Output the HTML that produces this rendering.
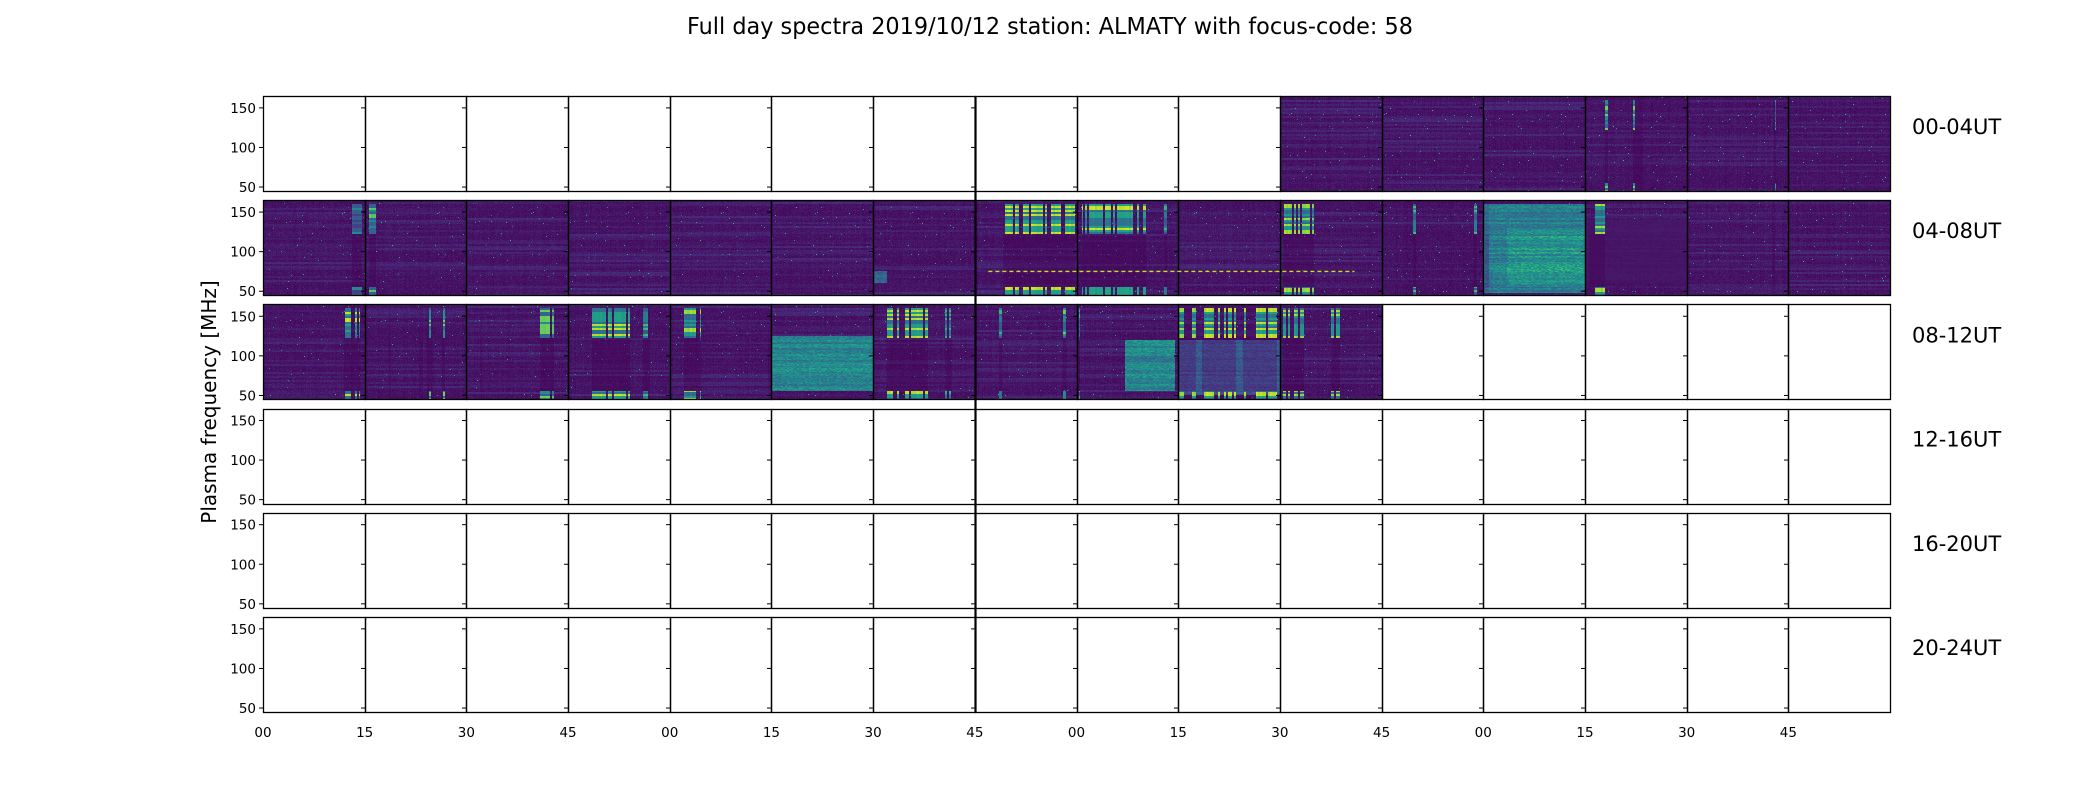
<!DOCTYPE html>
<html><head><meta charset="utf-8">
<style>
html,body{margin:0;padding:0;background:#fff;}
#wrap{position:relative;width:2100px;height:800px;overflow:hidden;font-family:"DejaVu Sans","Liberation Sans",sans-serif;}
canvas{position:absolute;image-rendering:pixelated;}
svg{position:absolute;left:0;top:0;}
</style></head>
<body>
<div id="wrap">
<svg id="svg" width="2100" height="800">
<text x="1050" y="34" text-anchor="middle" font-size="23" textLength="726" lengthAdjust="spacingAndGlyphs" fill="#000">Full day spectra 2019/10/12 station: ALMATY with focus-code: 58</text>
<text transform="translate(216,402) rotate(-90)" text-anchor="middle" font-size="20" fill="#000">Plasma frequency [MHz]</text>
</svg>
</div>
<script>
// ---- data ----
const rowLabels = ["00-04UT","04-08UT","08-12UT","12-16UT","16-20UT","20-24UT"];
const xTickLabels = ["00","15","30","45","00","15","30","45","00","15","30","45","00","15","30","45"];
const yTicks = [50,100,150];
// filled panels: [row, firstCol, lastCol]
const filledRanges = [[0,10,15],[1,0,15],[2,0,10]];
// bursts: [row, col, startMin, endMin, intensity]
const bursts = [
 [1,0,13.0,14.5,0.5],[1,1,0.5,1.5,0.8],[1,7,4.1,14.6,0.95],[1,8,0.7,10.2,0.95],[1,8,12.8,13.3,0.7],
 [1,10,0.3,4.9,0.9],[1,11,4.5,5.0,0.7],[1,11,13.5,14.0,0.7],[1,12,0.2,0.8,0.6],[1,13,0.5,2.8,0.9],[1,14,12.5,13.0,0.7],
 [2,0,11.8,14.2,0.95],[2,1,3.5,3.8,0.7],[2,1,8.0,8.5,0.8],[2,1,9.2,10.0,0.8],[2,1,11.3,11.8,0.8],
 [2,2,2.0,2.3,0.7],[2,2,10.8,12.8,0.8],[2,3,3.4,9.0,0.95],[2,3,11.0,12.0,0.7],[2,4,2.0,4.5,0.9],[2,4,14.5,15,0.7],
 [2,6,2.0,8.0,0.95],[2,6,10.5,11.5,0.7],[2,7,3.5,3.9,0.7],[2,7,12.8,13.3,0.8],[2,8,0.0,0.3,0.7],
 [2,9,0.0,2.5,0.9],[2,9,3.5,8.5,0.95],[2,9,9.5,14.5,0.95],[2,10,0.3,3.5,0.9],[2,10,7.5,8.8,0.9],
 [0,13,2.8,3.3,0.8],[0,13,7.0,8.5,0.8],[0,14,12.8,13.2,0.6]
];
// continuum blocks: [row, col, startMin, endMin, fLow, fHigh, level]
const continuum = [
 [1,6,0,2,60,75,0.35],[1,12,0,15,48,160,0.42],[1,12,3.5,15,55,130,0.5],[1,13,0,15,60,140,0.06],
 [2,5,0,15,55,125,0.45],[2,8,7,14.5,55,120,0.45],[2,9,0,15,50,120,0.28]
];
// dashed marker line at 75 MHz from row1 col7 min 2 to col10 min 11
const dashLine = [1,7,2,10,11,75];

// ---- layout ----
const X0=263, PW=101.69, Y0=96, RS=104.2, PH=95, FMIN=45, FMAX=165;
const wrap=document.getElementById('wrap');
const svg=document.getElementById('svg');
const NS='http://www.w3.org/2000/svg';
function px(col,min){return X0+col*PW+min/15*PW;}
function py(row,f){return Y0+row*RS+(FMAX-f)/(FMAX-FMIN)*PH;}
const vir=[[68,1,84],[72,36,117],[65,68,135],[53,95,141],[42,120,142],[33,145,140],[34,168,132],[68,191,112],[122,209,81],[189,223,38],[253,231,37]];
function viridis(v){v=Math.max(0,Math.min(1,v));const t=v*10,i=Math.min(9,Math.floor(t)),f=t-i;const a=vir[i],b=vir[i+1];return [a[0]+(b[0]-a[0])*f,a[1]+(b[1]-a[1])*f,a[2]+(b[2]-a[2])*f];}
function hash(a,b,c){let h=(a*374761393+b*668265263+c*2147483647)|0;h=(h^(h>>>13))*1274126177|0;h=h^(h>>>16);return ((h>>>0)%100000)/100000;}

function isFilled(r,c){return filledRanges.some(q=>q[0]===r&&c>=q[1]&&c<=q[2]);}

for(let r=0;r<6;r++){
 for(let c=0;c<16;c++){
  const left=Math.round(px(c,0)), right=Math.round(px(c+1,0)), top=Math.round(Y0+r*RS);
  const w=right-left, h=PH;
  if(isFilled(r,c)){
   const cv=document.createElement('canvas');
   
   
   cv.width=w;cv.height=h;cv.style.left=left+'px';cv.style.top=top+'px';
   const ctx=cv.getContext('2d');const img=ctx.createImageData(w,h);
   const myB=bursts.filter(b=>b[0]===r&&b[1]===c);
   const myC=continuum.filter(b=>b[0]===r&&b[1]===c);
   for(let x=0;x<w;x++){
    const m=x/w*15;
    const colS=hash(r*31+c,x,7);
    for(let y=0;y<h;y++){
     const f=FMAX-(y+0.5)/h*(FMAX-FMIN);
     const rowS=hash(r*17+c,y>>1,3);
     let v=0.02+0.06*Math.pow(hash(r*100+c,x,y),3)+0.07*rowS*rowS*rowS+0.02*colS;
     if(hash(x+c*7,y+r*5,11)>0.996) v=0.4+0.3*hash(x,y,5);
     for(const b of myC){ if(m>=b[2]&&m<=b[3]&&f>=b[4]&&f<=b[5]) v=b[6]*(0.8+0.4*hash(x>>1,y,13))*(0.85+0.3*rowS);}
     for(const b of myB){ if(m>=b[2]&&m<=b[3]){
       const cs=hash(r*50+c,Math.floor(x/2),21);
       const on=cs>0.3;
       if(on&&((f>=122&&f<=160)||(f>=45&&f<=55))){const band=hash(r+c,Math.floor(y/2),17);v=b[4]*(band>0.7?1:(band>0.35?0.62:0.42))*(0.85+0.15*cs);}
       else if(f>55&&f<122) v=v*0.6;
       else if(!on) v=v*0.8;
     }}
     const col=viridis(v);const i=(y*w+x)*4;
     img.data[i]=col[0];img.data[i+1]=col[1];img.data[i+2]=col[2];img.data[i+3]=255;
    }
   }
   ctx.putImageData(img,0,0);
   wrap.insertBefore(cv,svg);
  }
  // frame
  const rect=document.createElementNS(NS,'rect');
  rect.setAttribute('x',left+0.5);rect.setAttribute('y',top+0.5);rect.setAttribute('width',w);rect.setAttribute('height',h);
  rect.setAttribute('fill','none');rect.setAttribute('stroke','#000');rect.setAttribute('stroke-width','1.3');
  
  
  svg.appendChild(rect);
  for(const t of yTicks){
   const ty=py(r,t);
   const ln=document.createElementNS(NS,'line');
   ln.setAttribute('x1',left-4);ln.setAttribute('x2',left);ln.setAttribute('y1',ty);ln.setAttribute('y2',ty);ln.setAttribute('stroke','#000');ln.setAttribute('stroke-width','1');
   
   
   svg.appendChild(ln);
   if(c===0){
    const tx=document.createElementNS(NS,'text');
    tx.setAttribute('x',left-7);tx.setAttribute('y',ty+5);tx.setAttribute('text-anchor','end');tx.setAttribute('font-size','13.5');
    tx.textContent=t;
    
    
    svg.appendChild(tx);
   }
  }
 }
 const rl=document.createElementNS(NS,'text');
 rl.setAttribute('x',1912);rl.setAttribute('y',Y0+r*RS+38);rl.setAttribute('font-size','21');
 rl.textContent=rowLabels[r];
 
 
 svg.appendChild(rl);
}
// dashed line
{
 const [r,c0,m0,c1,m1,f]=dashLine;
 const dl=document.createElementNS(NS,'line');
 dl.setAttribute('x1',px(c0,m0));dl.setAttribute('x2',px(c1,m1));dl.setAttribute('y1',py(r,f));dl.setAttribute('y2',py(r,f));
 dl.setAttribute('stroke','#c8e020');dl.setAttribute('stroke-width','1.3');dl.setAttribute('stroke-dasharray','4,3');
 
 
 svg.appendChild(dl);
}
// x tick labels
xTickLabels.forEach((lab,k)=>{
 const tx=document.createElementNS(NS,'text');
 tx.setAttribute('x',px(k,0));tx.setAttribute('y',737);tx.setAttribute('text-anchor','middle');tx.setAttribute('font-size','13.5');
 tx.textContent=lab;
 
 
 svg.appendChild(tx);
});
// thicker overlap line at boundary 7
const tl=document.createElementNS(NS,'line');
tl.setAttribute('x1',Math.round(px(7,0))+0.5);tl.setAttribute('x2',Math.round(px(7,0))+0.5);tl.setAttribute('y1',Y0);tl.setAttribute('y2',Y0+5*RS+PH);
tl.setAttribute('stroke','#000');tl.setAttribute('stroke-width','2.2');


svg.appendChild(tl);
</script>
</body></html>
